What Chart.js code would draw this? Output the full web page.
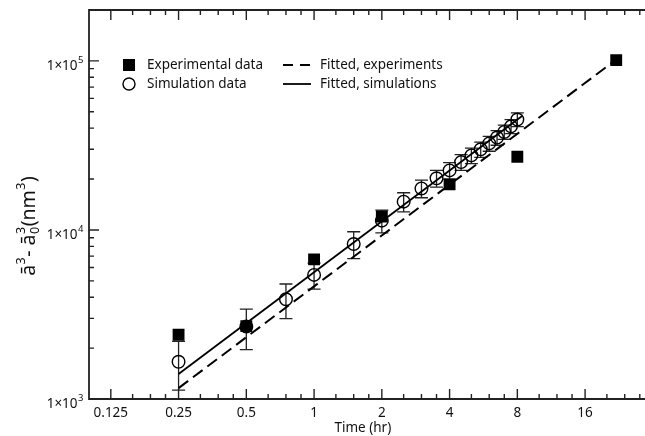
<!DOCTYPE html>
<html><head><meta charset="utf-8">
<script src="https://cdn.jsdelivr.net/npm/chart.js@4.4.1/dist/chart.umd.min.js"></script>
<style>html,body{margin:0;padding:0;background:#fff}#wrap{width:645px;height:436px;position:relative}</style>
</head><body><div id="wrap"><canvas id="c" width="645" height="436"></canvas></div>
<script>
// ---- data ----
const expTime  = [0.25, 0.5, 1, 2, 4, 8, 22];
const expValue = [2400, 2700, 6700, 12000, 18600, 27100, 101000];
const simTime  = [0.25, 0.5, 0.75, 1, 1.5, 2, 2.5, 3, 3.5, 4, 4.5, 5, 5.5, 6, 6.5, 7, 7.5, 8];
const simValue = [1660, 2680, 3890, 5420, 8260, 11350, 14700, 17600, 20200, 22500, 25200, 27600, 30000, 32500, 35200, 38000, 41000, 45000];
const simError = [530, 720, 900, 950, 1500, 1750, 1900, 2100, 2300, 2500, 2700, 2900, 3100, 3300, 3500, 3700, 3900, 4200];
const fitExpTime  = [0.25, 21.5];
const fitExpValue = [1160, 99500];
const fitSimTime  = [0.25, 8.4];
const fitSimValue = [1406, 47240];
const xTickValues = [0.125, 0.25, 0.5, 1, 2, 4, 8, 16];
const xTickLabels = ['0.125', '0.25', '0.5', '1', '2', '4', '8', '16'];
const xMinorTicks = [0.15625, 0.1875, 0.21875, 0.3125, 0.375, 0.4375, 0.625, 0.75, 0.875, 1.25, 1.5, 1.75, 2.5, 3, 3.5, 5, 6, 7, 10, 12, 14, 20, 24, 28];
const yTickValues = [1000, 10000, 100000];
const yTickBase = ['1×10', '1×10', '1×10'];
const yTickExp  = ['3', '4', '5'];
const yMinorTicks = [2000, 3000, 4000, 5000, 6000, 7000, 8000, 9000, 20000, 30000, 40000, 50000, 60000, 70000, 80000, 90000];
const xTitle = 'Time (hr)';
// y title pieces: [text, kind] kind: n = normal, sup = superscript, subsup = stacked sub+sup
const yTitleParts = [['ā', 'n'], ['3', 'sup'], ['- ', 'n'], ['ā', 'n'], ['0|3', 'subsup'], ['(nm', 'n'], ['3', 'sup'], [')', 'n']];
const legendItems = ['Experimental data', 'Simulation data', 'Fitted, experiments', 'Fitted, simulations'];

const FONT = "'Noto Sans', 'DejaVu Sans', sans-serif";
const INK = '#111';

const pts = (xs, ys) => xs.map((x, i) => ({x: x, y: ys[i]}));

function drawRich(ctx, parts, x0, y0, big, small, align) {
  const widths = parts.map(([t, k]) => {
    if (k === 'n') { ctx.font = big + 'px ' + FONT; return ctx.measureText(t).width; }
    ctx.font = small + 'px ' + FONT;
    if (k === 'subsup') { const [a, b] = t.split('|'); return Math.max(ctx.measureText(a).width, ctx.measureText(b).width) + 1; }
    return ctx.measureText(t).width + 1;
  });
  const total = widths.reduce((s, w) => s + w, 0);
  let x = align === 'center' ? x0 - total / 2 : (align === 'right' ? x0 - total : x0);
  ctx.textBaseline = 'alphabetic';
  ctx.textAlign = 'left';
  parts.forEach(([t, k], i) => {
    if (k === 'n') { ctx.font = big + 'px ' + FONT; ctx.fillText(t, x, y0); }
    else if (k === 'sup') { ctx.font = small + 'px ' + FONT; ctx.fillText(t, x + 0.5, y0 - big * 0.5); }
    else { const [a, b] = t.split('|'); ctx.font = small + 'px ' + FONT;
      ctx.fillText(a, x + 0.5, y0 + small * 0.35); ctx.fillText(b, x + 0.5, y0 - big * 0.5); }
    x += widths[i];
  });
}

const framePlugin = {
  id: 'frame',
  afterDatasetsDraw(chart) {
    const {ctx, chartArea: a, scales: {x, y}} = chart;
    ctx.save();
    ctx.strokeStyle = '#222';
    ctx.lineWidth = 1.8;
    ctx.beginPath();
    ctx.moveTo(chart.width, a.top); ctx.lineTo(a.left, a.top);
    ctx.lineTo(a.left, a.bottom); ctx.lineTo(chart.width, a.bottom);
    ctx.stroke();
    ctx.lineWidth = 1.4;
    ctx.beginPath();
    const xt = (v, len) => { const p = x.getPixelForValue(v);
      ctx.moveTo(p, a.bottom); ctx.lineTo(p, a.bottom - len);
      ctx.moveTo(p, a.top); ctx.lineTo(p, a.top + len); };
    xTickValues.forEach(v => xt(v, 10));
    xMinorTicks.forEach(v => xt(v, 5));
    const yt = (v, len) => { const p = y.getPixelForValue(v);
      ctx.moveTo(a.left, p); ctx.lineTo(a.left + len, p); };
    yTickValues.forEach(v => yt(v, 10));
    yMinorTicks.forEach(v => yt(v, 5));
    ctx.stroke();
    ctx.restore();
  },
  afterDraw(chart) {
    const {ctx, chartArea: a, scales: {x, y}} = chart;
    ctx.save();
    ctx.fillStyle = INK;
    yTickValues.forEach((v, i) => {
      const p = y.getPixelForValue(v);
      drawRich(ctx, [[yTickBase[i], 'n'], [yTickExp[i], 'sup']], a.left - 5, p + 9, 13.5, 9.5, 'right');
    });
    ctx.translate(35, 226);
    ctx.rotate(-Math.PI / 2);
    drawRich(ctx, yTitleParts, 0, 0, 19.5, 12.5, 'center');
    ctx.restore();
    // legend
    ctx.save();
    ctx.textBaseline = 'middle';
    ctx.textAlign = 'left';
    const r1 = 65, r2 = 84;
    ctx.fillStyle = '#000';
    ctx.fillRect(123, r1 - 6, 12, 12);
    ctx.beginPath(); ctx.arc(129, r2, 6, 0, Math.PI * 2);
    ctx.lineWidth = 1.4; ctx.strokeStyle = '#000'; ctx.stroke();
    ctx.fillStyle = INK;
    ctx.font = '13.5px ' + FONT;
    ctx.fillText(legendItems[0], 147, r1);
    ctx.fillText(legendItems[1], 147, r2);
    ctx.fillText(legendItems[2], 320, r1);
    ctx.fillText(legendItems[3], 320, r2);
    ctx.lineWidth = 2;
    ctx.setLineDash([10, 7]);
    ctx.beginPath(); ctx.moveTo(283, r1); ctx.lineTo(311, r1); ctx.stroke();
    ctx.setLineDash([]);
    ctx.lineWidth = 1.8;
    ctx.beginPath(); ctx.moveTo(283, r2); ctx.lineTo(311, r2); ctx.stroke();
    ctx.restore();
  }
};

const errorPlugin = {
  id: 'errbars',
  beforeDatasetsDraw(chart) {
    const {ctx, scales: {x, y}} = chart;
    ctx.save();
    ctx.strokeStyle = '#222';
    ctx.lineWidth = 1.3;
    ctx.beginPath();
    simTime.forEach((t, i) => {
      const px = x.getPixelForValue(t);
      const lo = y.getPixelForValue(simValue[i] - simError[i]);
      const hi = y.getPixelForValue(simValue[i] + simError[i]);
      ctx.moveTo(px, lo); ctx.lineTo(px, hi);
      ctx.moveTo(px - 6.5, lo); ctx.lineTo(px + 6.5, lo);
      ctx.moveTo(px - 6.5, hi); ctx.lineTo(px + 6.5, hi);
    });
    ctx.stroke();
    ctx.restore();
  }
};

new Chart(document.getElementById('c'), {
  type: 'scatter',
  data: {
    datasets: [
      {label: legendItems[0], data: pts(expTime, expValue), pointStyle: 'rect', pointRadius: 8.4,
       backgroundColor: '#000', borderColor: '#000', borderWidth: 0, showLine: false, order: 0},
      {label: legendItems[3], type: 'line', data: pts(fitSimTime, fitSimValue), borderColor: '#000',
       borderWidth: 1.8, pointRadius: 0, fill: false, order: 1},
      {label: legendItems[2], type: 'line', data: pts(fitExpTime, fitExpValue), borderColor: '#000',
       borderWidth: 2, borderDash: [12, 6], pointRadius: 0, fill: false, order: 2},
      {label: legendItems[1], data: pts(simTime, simValue), pointStyle: 'circle', pointRadius: 6.3,
       backgroundColor: 'rgba(255,255,255,0)', borderColor: '#000', borderWidth: 1.4, showLine: false, order: 3}
    ]
  },
  options: {
    responsive: false, animation: false, devicePixelRatio: 1,
    layout: {padding: {top: 10, right: 0, left: 0, bottom: 0}},
    plugins: {legend: {display: false}, tooltip: {enabled: false}},
    scales: {
      x: {
        type: 'logarithmic', min: 0.1, max: 27.1, position: 'bottom',
        afterBuildTicks: s => { s.ticks = xTickValues.map(v => ({value: v})); },
        afterFit: s => { s.height = 37; s.paddingLeft = 0; s.paddingRight = 0; },
        grid: {display: false, drawTicks: false}, border: {display: false},
        ticks: {autoSkip: false, maxRotation: 0, padding: 6, color: INK,
                font: {family: FONT, size: 13.5}, callback: (v, i) => xTickLabels[i]},
        title: {display: true, text: xTitle, color: INK, font: {family: FONT, size: 13.5}, padding: {top: -2, bottom: 0}}
      },
      y: {
        type: 'logarithmic', min: 1000, max: 200000,
        afterBuildTicks: s => { s.ticks = yTickValues.map(v => ({value: v})); },
        afterFit: s => { s.width = 89; s.paddingTop = 0; s.paddingBottom = 0; },
        grid: {display: false, drawTicks: false}, border: {display: false},
        ticks: {display: false}
      }
    }
  },
  plugins: [errorPlugin, framePlugin]
});
</script>
</body></html>
